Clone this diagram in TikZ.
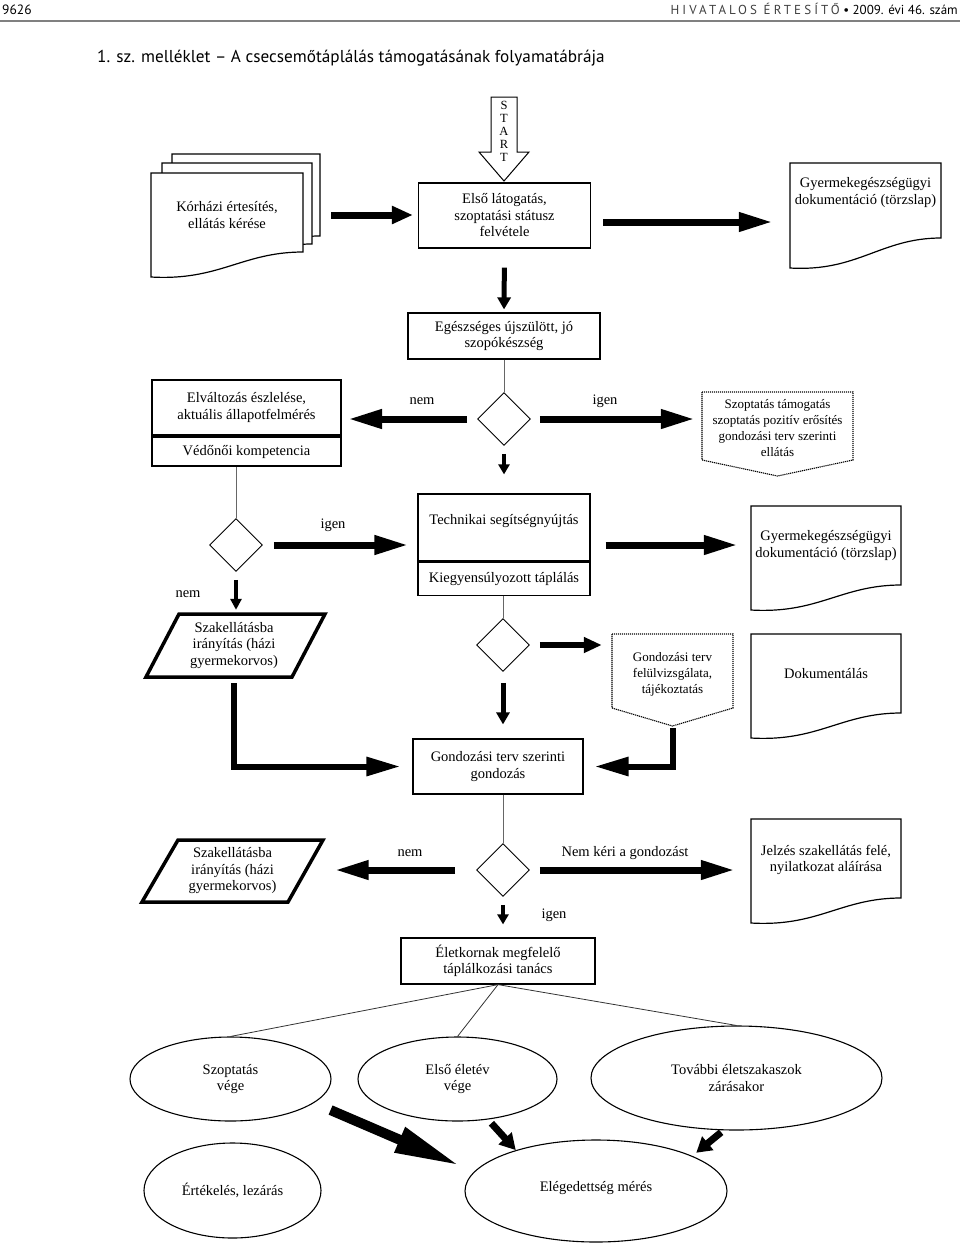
\documentclass[tikz,border=0pt]{standalone}
\usepackage{fontspec}
\setmainfont{Liberation Serif}
\newfontfamily\fejbetu{PT Sans}
\usetikzlibrary{shapes.geometric,arrows.meta,calc}

\newcommand{\dokulap}[5]{%
  \pgfmathsetmacro{\dka}{#3-0.4*(#3-#1)}%
  \pgfmathsetmacro{\dkb}{#1+0.45*(#3-#1)}%
  \draw[lap] (#1,#5) -- (#1,#2) -- (#3,#2) -- (#3,#4)
     .. controls (\dka,#4) and (\dkb,#5+4) .. (#1,#5) -- cycle;}

\begin{document}
\begin{tikzpicture}[x=1pt, y=-1pt,
  szov/.style={font=\fontsize{14.5}{16.5}\selectfont, align=center},
  kis/.style={font=\fontsize{13}{16}\selectfont, align=center},
  doboz/.style={draw, line width=1.2pt, szov, inner sep=0pt},
  dontes/.style={draw, diamond, aspect=1, minimum size=53pt, inner sep=0pt, line width=0.9pt},
  tojas/.style={draw, ellipse, line width=1.1pt, inner sep=0pt, szov},
  lap/.style={line width=1.2pt, fill=white},
  pont/.style={line width=1.1pt, dash pattern=on 1.2pt off 0.8pt},
  parall/.style={line width=3.5pt},
  vastag/.style={line width=7pt, -{Triangle[length=34pt,width=18pt]}},
  kozep/.style={line width=5pt, -{Triangle[length=12pt,width=13pt]}},
  vekony/.style={line width=0.8pt, black!60}]

\useasboundingbox (0,0) rectangle (960,1243);

\node[anchor=base west, inner sep=0pt, font=\fejbetu\fontsize{13.5}{16}\selectfont] (oldal) at (2,14) {9626};
\node[anchor=base east, inner sep=0pt, font=\fejbetu\fontsize{13}{16}\selectfont] (fejlec) at (958,14)
  {{\addfontfeatures{LetterSpace=24}\color{black!75}HIVATALOS ÉRTESÍTŐ} • 2009. évi 46. szám};
\draw[black!50, line width=1.2pt] (0,21) -- (960,21);
\node[anchor=base west, inner sep=0pt, font=\fejbetu\fontsize{17.2}{20}\selectfont] (cim) at (97,62)
  {1. sz. melléklet – A csecsemőtáplálás támogatásának folyamatábrája};

\draw[line width=1pt] (491,97) -- (517,97) -- (517,152) -- (529,152) -- (504,181) -- (479,152) -- (491,152) -- cycle;
\node[font=\fontsize{12.5}{13}\selectfont, align=center, inner sep=0pt] (start) at (504,131) {S\\T\\A\\R\\T};

\node[doboz, minimum width=172pt, minimum height=65pt] (elso) at (504.5,215.5) {Első látogatás,\\szoptatási státusz\\felvétele};

\dokulap{172}{154}{320}{236}{262}
\dokulap{162}{163}{312}{244}{270}
\dokulap{151}{173}{303}{252}{277}
\node[szov, minimum width=152pt, inner sep=0pt] (korhaz) at (227,215) {Kórházi értesítés,\\ellátás kérése};
\draw[vastag, -{Triangle[length=21pt,width=17pt]}, shorten <=28pt, shorten >=5pt] (korhaz.east) -- (korhaz.east -| elso.west);

\dokulap{790}{163}{941}{238}{268}
\node[szov, minimum width=151pt, inner sep=0pt] (gyerm1) at (865.5,192.5) {Gyermekegészségügyi\\dokumentáció (törzslap)};
\draw[vastag, shorten <=12pt, shorten >=17pt] ($(elso.east)+(0,6.5)$) -- ($(elso.east -| gyerm1.west)+(0,6.5)$);

\node[doboz, minimum width=192pt, minimum height=46pt] (egesz) at (504,336) {Egészséges újszülött, jó\\szopókészség};
\draw[kozep, shorten <=19pt, shorten >=3pt] (elso.south) -- (egesz.north);

\node[dontes] (d1) at (504,419) {};
\draw[vekony] (egesz.south) -- (d1.north);

\node[doboz, line width=2pt, minimum width=189pt, minimum height=55pt] (elv) at (246.5,407.5) {Elváltozás észlelése,\\aktuális állapotfelmérés};
\node[doboz, line width=2pt, minimum width=189pt, minimum height=29pt, anchor=north] (vedo) at (elv.south) {Védőnői kompetencia};
\draw[vastag, shorten <=10pt, shorten >=6pt] (d1.west) -- (d1.west -| elv.east);
\node[szov] (nem1) at (422,401) {nem};

\draw[pont] (702,392) -- (853,392) -- (853,460) -- (777.5,476) -- (702,460) -- cycle;
\node[kis, minimum width=151pt, inner sep=0pt] (szopt) at (777.5,428) {Szoptatás támogatás\\szoptatás pozitív erősítés\\gondozási terv szerinti\\ellátás};
\draw[vastag, shorten <=9pt, shorten >=7pt] (d1.east) -- (d1.east -| szopt.west);
\node[szov] (igen1) at (605,401) {igen};

\node[doboz, minimum width=172pt, minimum height=67pt, text depth=17pt] (tech) at (504,527.5) {Technikai segítségnyújtás};
\node[doboz, minimum width=172pt, minimum height=33pt, anchor=north] (kiegy) at (tech.south) {Kiegyensúlyozott táplálás};
\draw[kozep, line width=4pt, -{Triangle[length=10pt,width=11pt]}, shorten <=8pt, shorten >=19pt] (d1.south) -- (tech.north);

\node[dontes] (d2) at (236,545) {};
\draw[vekony] (d2.north |- vedo.south) -- (d2.north);
\draw[vastag, shorten <=11pt, shorten >=9pt] (d2.east) -- (d2.east -| tech.west);
\node[szov] (igen2) at (333,525) {igen};

\dokulap{751}{506}{901}{585}{610}
\node[szov, minimum width=150pt, inner sep=0pt] (gyerm2) at (826,545.5) {Gyermekegészségügyi\\dokumentáció (törzslap)};
\draw[vastag, shorten <=15pt, shorten >=13pt] (d2.east -| tech.east) -- (d2.east -| gyerm2.west);

\node[szov] (nem2) at (188,594) {nem};
\draw[parall] (179,614) -- (325,614) -- (292,677) -- (146,677) -- cycle;
\node[szov, minimum width=146pt, minimum height=63pt, inner sep=0pt] (szak1) at (234,645.5) {Szakellátásba\\irányítás (házi\\gyermekorvos)};
\draw[kozep, line width=4pt, -{Triangle[length=11pt,width=11pt]}, shorten <=8pt, shorten >=4pt] (d2.south) -- (d2.south |- szak1.north);

\node[dontes] (d3) at (503,645) {};
\draw[vekony] (d3.north |- kiegy.south) -- (d3.north);

\draw[pont] (612,634) -- (733,634) -- (733,708) -- (672.5,726) -- (612,708) -- cycle;
\coordinate (gondfcsucs) at (672.5,726);
\node[kis, minimum width=121pt, inner sep=0pt] (gondf) at (672.5,674) {Gondozási terv\\felülvizsgálata,\\tájékoztatás};
\draw[vastag, line width=6pt, -{Triangle[length=18pt,width=15pt]}, shorten <=10pt, shorten >=10pt] (d3.east) -- (d3.east -| gondf.west);

\dokulap{751}{634}{901}{713}{738}
\node[szov, minimum width=150pt, inner sep=0pt] (dok) at (826,674) {Dokumentálás};

\node[doboz, minimum width=170pt, minimum height=55pt] (gond) at (498,766.5) {Gondozási terv szerinti\\gondozás};
\draw[kozep, shorten <=11pt, shorten >=14pt] (d3.south) -- (d3.south |- gond.north);
\draw[vastag, line width=6pt, shorten <=6pt, shorten >=12pt] (szak1.south) |- (gond.west);
\draw[vastag, line width=6pt, shorten <=2pt, shorten >=11pt] (gondfcsucs) |- (gond.east);

\node[dontes] (d4) at (503,870) {};
\draw[vekony] (d4.north |- gond.south) -- (d4.north);

\draw[parall] (178,840) -- (323,840) -- (288,902) -- (142,902) -- cycle;
\node[szov, minimum width=146pt, minimum height=62pt, inner sep=0pt] (szak2) at (232.5,871) {Szakellátásba\\irányítás (házi\\gyermekorvos)};
\draw[vastag, shorten <=21pt, shorten >=29pt] (d4.west) -- (d4.west -| szak2.east);
\node[szov] (nem3) at (410,853) {nem};

\dokulap{751}{819}{901}{898}{923}
\node[szov, minimum width=150pt, inner sep=0pt] (jelzes) at (826,860) {Jelzés szakellátás felé,\\nyilatkozat aláírása};
\draw[vastag, shorten <=10pt, shorten >=16pt] (d4.east) -- (d4.east -| jelzes.west);
\node[szov] (nemkeri) at (625,853) {Nem kéri a gondozást};

\node[doboz, minimum width=194pt, minimum height=46pt] (eletk) at (498,961) {Életkornak megfelelő\\táplálkozási tanács};
\draw[kozep, line width=4pt, -{Triangle[length=10pt,width=11pt]}, shorten <=8pt, shorten >=13pt] (d4.south) -- (d4.south |- eletk.north);
\node[szov] (igen3) at (554,915) {igen};

\node[tojas, minimum width=201pt, minimum height=84pt] (szvege) at (230.5,1079) {Szoptatás\\vége};
\node[tojas, minimum width=199pt, minimum height=84pt] (eletev) at (457.5,1079) {Első életév\\vége};
\node[tojas, minimum width=291pt, minimum height=104pt] (tovabbi) at (736.5,1078) {További életszakaszok\\zárásakor};
\node[tojas, minimum width=177pt, minimum height=95pt] (ertek) at (232.5,1190.5) {Értékelés, lezárás};
\node[tojas, minimum width=262pt, minimum height=102pt, text depth=9pt] (eleg) at (596,1191) {Elégedettség mérés};

\draw[vekony, black!80] (eletk.south) -- (szvege.north);
\draw[vekony, black!80] (eletk.south) -- (eletev.north);
\draw[vekony, black!80] (eletk.south) -- (tovabbi.north);

\draw[line width=10pt, -{Triangle[length=66pt,width=25pt]}, shorten <=18pt, shorten >=15pt] (szvege.-16) -- (eleg.171);
\draw[line width=7pt, -{Triangle[length=16pt,width=17pt]}, shorten <=5pt] (eletev.-53) -- (eleg.153);
\draw[line width=7pt, -{Triangle[length=15pt,width=17pt]}, shorten <=3pt, shorten >=5pt] (tovabbi.-104) -- (eleg.20);
\end{tikzpicture}
\end{document}
